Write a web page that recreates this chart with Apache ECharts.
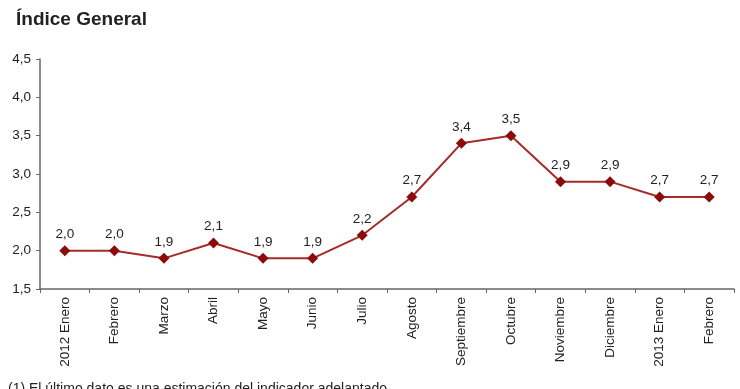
<!DOCTYPE html>
<html>
<head>
<meta charset="utf-8">
<script src="https://cdn.jsdelivr.net/npm/echarts@6/dist/echarts.min.js"></script>
<style>
  html, body { margin: 0; padding: 0; background: #fff; }
  #chart { width: 740px; height: 389px; }
</style>
</head>
<body>
<div id="chart"></div>
<script>
// months on the x axis
const months = ['2012 Enero', 'Febrero', 'Marzo', 'Abril', 'Mayo', 'Junio', 'Julio',
    'Agosto', 'Septiembre', 'Octubre', 'Noviembre', 'Diciembre', '2013 Enero', 'Febrero'];

// indice general values
const values = [2.0, 2.0, 1.9, 2.1, 1.9, 1.9, 2.2, 2.7, 3.4, 3.5, 2.9, 2.9, 2.7, 2.7];

function comma(v) {
    return Number(v).toFixed(1).replace('.', ',');
}

var myChart = echarts.init(document.getElementById('chart'));

var option = {
    animation: false,
    backgroundColor: '#fff',
    textStyle: { fontFamily: 'Liberation Sans, Arial, sans-serif' },
    title: {
        text: 'Índice General',
        left: 11,
        top: 5,
        textStyle: { fontSize: 19, fontWeight: 'bold', color: '#222' }
    },
    grid: { left: 40, right: 6, top: 59, bottom: 100 },
    xAxis: {
        type: 'category',
        data: months,
        axisLine: { lineStyle: { color: '#666', width: 1.5 } },
        axisTick: { show: true, length: 4, lineStyle: { color: '#666' } },
        axisLabel: { rotate: 90, color: '#222', fontSize: 13.5, margin: 8 }
    },
    yAxis: {
        type: 'value',
        min: 1.5,
        max: 4.5,
        interval: 0.5,
        splitLine: { show: false },
        axisLine: { show: true, lineStyle: { color: '#666', width: 1.5 } },
        axisTick: { show: true, length: 4, lineStyle: { color: '#666' } },
        axisLabel: { color: '#222', fontSize: 13.5, margin: 9, formatter: comma }
    },
    series: [{
        type: 'line',
        data: values,
        symbol: 'diamond',
        symbolSize: 11,
        itemStyle: { color: '#8b0a0a' },
        lineStyle: { color: '#a52a2a', width: 2 },
        label: {
            show: true,
            position: 'top',
            distance: 4,
            color: '#222',
            fontSize: 13.5,
            formatter: p => comma(p.value)
        }
    }],
    graphic: [{
        type: 'text',
        left: 8,
        top: 382,
        style: {
            text: '(1) El último dato es una estimación del indicador adelantado',
            fill: '#222',
            font: '14px Liberation Sans, Arial, sans-serif'
        }
    }]
};
myChart.setOption(option);
</script>
</body>
</html>
